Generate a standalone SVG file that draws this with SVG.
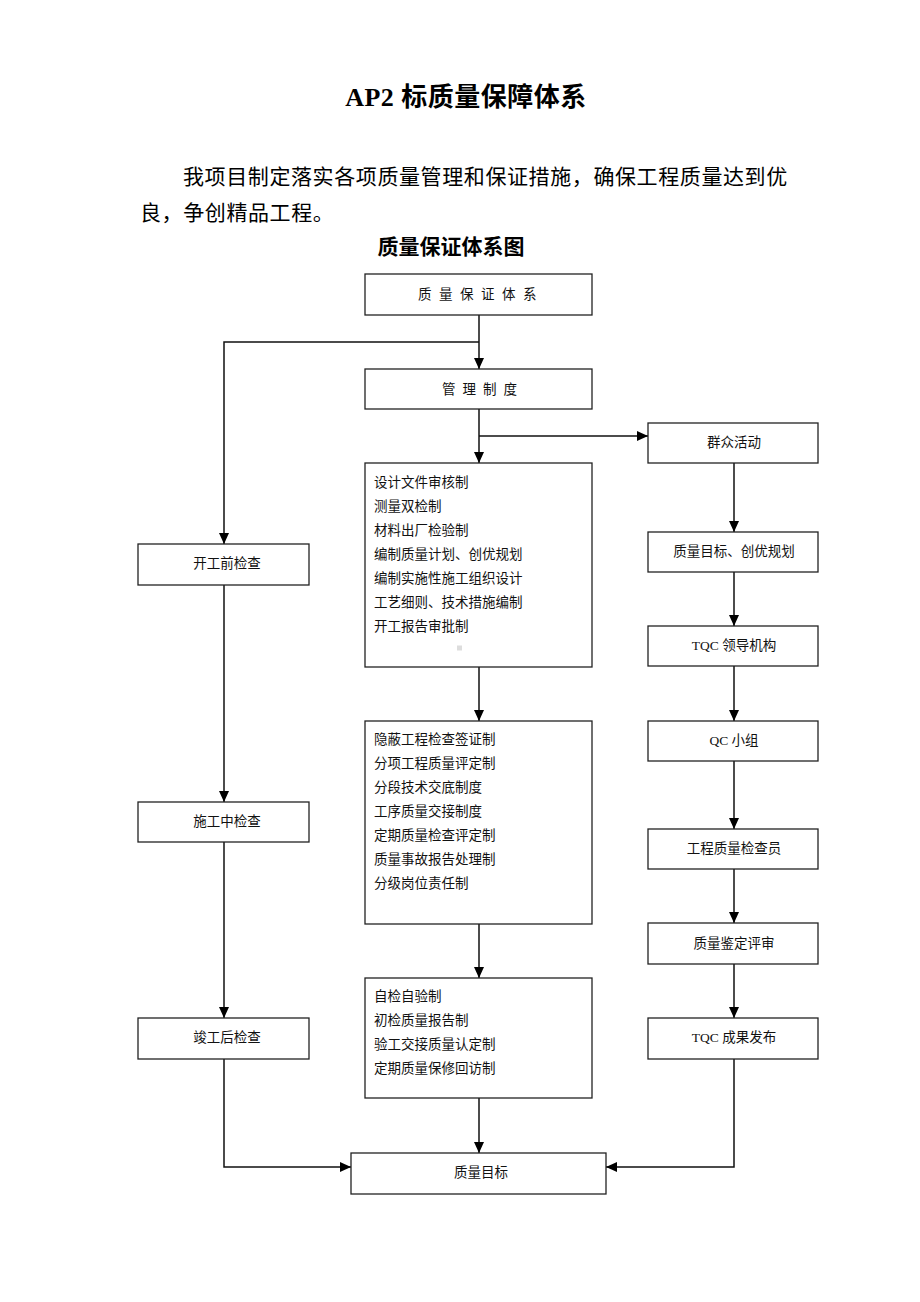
<svg xmlns="http://www.w3.org/2000/svg" width="920" height="1302" viewBox="0 0 920 1302">
<style>
.bg{fill:#fff}
.box{fill:#fff;stroke:#222;stroke-width:1.3}
.t{font-family:"Liberation Serif","Noto Sans CJK SC",serif;font-size:13.5px;fill:#111}
.c{text-anchor:middle}
.ln{fill:none;stroke:#111;stroke-width:1.5}
.h1{font-family:"Liberation Serif","Noto Sans CJK SC",serif;font-size:26px;font-weight:bold;fill:#000;text-anchor:middle;letter-spacing:0.5px}
.p{font-family:"Liberation Serif","Noto Sans CJK SC",serif;font-size:21px;fill:#000;letter-spacing:0.6px}
.h2{font-family:"Liberation Serif","Noto Sans CJK SC",serif;font-size:21px;font-weight:bold;fill:#000;text-anchor:middle}
</style>
<defs>
<marker id="ah" markerUnits="userSpaceOnUse" markerWidth="12" markerHeight="10" refX="11" refY="5" orient="auto">
<path d="M0,0 L11,5 L0,10 Z" fill="#000"/>
</marker>
</defs>
<rect class="bg" x="0" y="0" width="920" height="1302"/>
<text class="h1" x="466" y="106">AP2 标质量保障体系</text>
<text class="p" x="183" y="184">我项目制定落实各项质量管理和保证措施，确保工程质量达到优</text>
<text class="p" x="140" y="220">良，争创精品工程。</text>
<text class="h2" x="451" y="254">质量保证体系图</text>

<g id="connectors">
<path class="ln" d="M479,315 V369" marker-end="url(#ah)"/>
<path class="ln" d="M479,342 H224 V544" marker-end="url(#ah)"/>
<path class="ln" d="M479,409 V463" marker-end="url(#ah)"/>
<path class="ln" d="M479,436 H648" marker-end="url(#ah)"/>
<path class="ln" d="M734,463 V532" marker-end="url(#ah)"/>
<path class="ln" d="M734,572 V626" marker-end="url(#ah)"/>
<path class="ln" d="M734,666 V721" marker-end="url(#ah)"/>
<path class="ln" d="M734,761 V829" marker-end="url(#ah)"/>
<path class="ln" d="M734,869 V923" marker-end="url(#ah)"/>
<path class="ln" d="M734,964 V1018" marker-end="url(#ah)"/>
<path class="ln" d="M224,585 V802" marker-end="url(#ah)"/>
<path class="ln" d="M224,842 V1018" marker-end="url(#ah)"/>
<path class="ln" d="M479,667 V721" marker-end="url(#ah)"/>
<path class="ln" d="M479,924 V978" marker-end="url(#ah)"/>
<path class="ln" d="M479,1098 V1153" marker-end="url(#ah)"/>
<path class="ln" d="M224,1059 V1167 H351" marker-end="url(#ah)"/>
<path class="ln" d="M734,1059 V1167 H606" marker-end="url(#ah)"/>
</g>

<g id="n-system">
<rect class="box" x="365" y="274" width="227" height="41"/>
<text class="t c" x="481" y="299" letter-spacing="7.5">质量保证体系</text>
</g>
<g id="n-mgmt">
<rect class="box" x="365" y="369" width="227" height="40"/>
<text class="t c" x="483" y="394" letter-spacing="7">管理制度</text>
</g>
<g id="n-rules1">
<rect class="box" x="365" y="463" width="227" height="204"/>
<text class="t" x="374" y="487">设计文件审核制</text>
<text class="t" x="374" y="511">测量双检制</text>
<text class="t" x="374" y="535">材料出厂检验制</text>
<text class="t" x="374" y="559">编制质量计划、创优规划</text>
<text class="t" x="374" y="583">编制实施性施工组织设计</text>
<text class="t" x="374" y="607">工艺细则、技术措施编制</text>
<text class="t" x="374" y="631">开工报告审批制</text>
<rect x="457" y="645.5" width="5" height="5" fill="#ddd"/>
</g>
<g id="n-rules2">
<rect class="box" x="365" y="721" width="227" height="203"/>
<text class="t" x="374" y="744">隐蔽工程检查签证制</text>
<text class="t" x="374" y="768">分项工程质量评定制</text>
<text class="t" x="374" y="792">分段技术交底制度</text>
<text class="t" x="374" y="816">工序质量交接制度</text>
<text class="t" x="374" y="840">定期质量检查评定制</text>
<text class="t" x="374" y="864">质量事故报告处理制</text>
<text class="t" x="374" y="888">分级岗位责任制</text>
</g>
<g id="n-rules3">
<rect class="box" x="365" y="978" width="227" height="120"/>
<text class="t" x="374" y="1001">自检自验制</text>
<text class="t" x="374" y="1025">初检质量报告制</text>
<text class="t" x="374" y="1049">验工交接质量认定制</text>
<text class="t" x="374" y="1073">定期质量保修回访制</text>
</g>
<g id="n-mass">
<rect class="box" x="648" y="423" width="170" height="40"/>
<text class="t c" x="734" y="447">群众活动</text>
</g>
<g id="n-goal-plan">
<rect class="box" x="648" y="532" width="170" height="40"/>
<text class="t c" x="734" y="556">质量目标、创优规划</text>
</g>
<g id="n-tqc-lead">
<rect class="box" x="648" y="626" width="170" height="40"/>
<text class="t c" x="734" y="650">TQC 领导机构</text>
</g>
<g id="n-qc">
<rect class="box" x="648" y="721" width="170" height="40"/>
<text class="t c" x="734" y="745">QC 小组</text>
</g>
<g id="n-inspector">
<rect class="box" x="648" y="829" width="170" height="40"/>
<text class="t c" x="734" y="853">工程质量检查员</text>
</g>
<g id="n-review">
<rect class="box" x="648" y="923" width="170" height="41"/>
<text class="t c" x="734" y="948">质量鉴定评审</text>
</g>
<g id="n-tqc-result">
<rect class="box" x="648" y="1018" width="170" height="41"/>
<text class="t c" x="734" y="1042">TQC 成果发布</text>
</g>
<g id="n-pre">
<rect class="box" x="138" y="544" width="171" height="41"/>
<text class="t c" x="227" y="568">开工前检查</text>
</g>
<g id="n-during">
<rect class="box" x="138" y="802" width="171" height="40"/>
<text class="t c" x="227" y="826">施工中检查</text>
</g>
<g id="n-after">
<rect class="box" x="138" y="1018" width="171" height="41"/>
<text class="t c" x="227" y="1042">竣工后检查</text>
</g>
<g id="n-target">
<rect class="box" x="351" y="1153" width="255" height="41"/>
<text class="t c" x="481" y="1177">质量目标</text>
</g>
</svg>
